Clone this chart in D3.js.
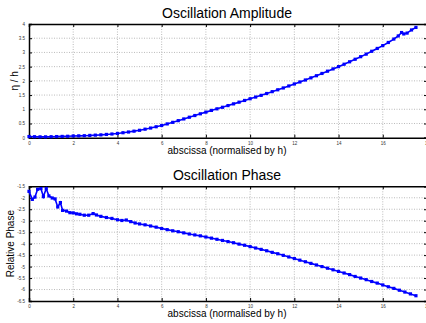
<!DOCTYPE html>
<html>
<head>
<meta charset="utf-8">
<script src="https://cdn.jsdelivr.net/npm/d3@7"></script>
<style>
  body { margin: 0; background: #fff; }
  text { font-family: "Liberation Sans", Arial, sans-serif; }
</style>
</head>
<body>
<div id="chart"></div>
<script>
// amplitude series (eta / h)
const ampX = [0, 0.25, 0.5, 0.75, 1, 1.25, 1.5, 1.75, 2, 2.25, 2.5, 2.75, 3, 3.25, 3.5, 3.75,
  4, 4.25, 4.5, 4.75, 5, 5.25, 5.5, 5.75, 6, 6.25, 6.5, 6.75, 7, 7.25, 7.5, 7.75,
  8, 8.25, 8.5, 8.75, 9, 9.25, 9.5, 9.75, 10, 10.25, 10.5, 10.75, 11, 11.25, 11.5, 11.75,
  12, 12.25, 12.5, 12.75, 13, 13.25, 13.5, 13.75, 14, 14.25, 14.5, 14.75, 15, 15.25, 15.5, 15.75,
  16, 16.25, 16.5, 16.7, 16.85, 16.95, 17.1, 17.3, 17.5];
const ampY = [0.04, 0.035, 0.03, 0.03, 0.035, 0.04, 0.045, 0.05, 0.06, 0.065, 0.07, 0.08, 0.09, 0.10, 0.115, 0.13,
  0.15, 0.175, 0.20, 0.23, 0.26, 0.30, 0.34, 0.385, 0.43, 0.485, 0.54, 0.60, 0.66, 0.72, 0.78, 0.84,
  0.90, 0.96, 1.015, 1.07, 1.13, 1.19, 1.25, 1.31, 1.37, 1.43, 1.49, 1.555, 1.62, 1.685, 1.75, 1.82,
  1.89, 1.96, 2.03, 2.105, 2.18, 2.26, 2.34, 2.42, 2.50, 2.585, 2.67, 2.76, 2.85, 2.94, 3.04, 3.14,
  3.24, 3.35, 3.47, 3.58, 3.70, 3.65, 3.68, 3.79, 3.88];

// phase series
const phaseX = [0, 0.15, 0.27, 0.39, 0.54, 0.65, 0.78, 0.9, 1.05, 1.18, 1.3, 1.42, 1.52, 1.7, 1.85,
  2, 2.15, 2.3, 2.5, 2.7, 2.9, 3.05, 3.25, 3.5, 3.75, 4, 4.2, 4.4, 4.6, 4.8,
  5, 5.25, 5.5, 5.75, 6, 6.25, 6.5, 6.75, 7, 7.25, 7.5, 7.75, 8, 8.25, 8.5, 8.75,
  9, 9.25, 9.5, 9.75, 10, 10.25, 10.5, 10.75, 11, 11.25, 11.5, 11.75, 12, 12.25, 12.5, 12.75,
  13, 13.25, 13.5, 13.75, 14, 14.25, 14.5, 14.75, 15, 15.25, 15.5, 15.75, 16, 16.25, 16.5, 16.75,
  17, 17.25, 17.5];
const phaseY = [-1.72, -2.07, -1.97, -1.63, -1.60, -1.95, -1.60, -1.92, -2.01, -2.05, -2.40, -2.21, -2.55, -2.58, -2.65,
  -2.66, -2.70, -2.72, -2.76, -2.76, -2.69, -2.75, -2.81, -2.86, -2.90, -2.96, -2.99, -2.97, -3.04, -3.10,
  -3.14, -3.18, -3.23, -3.28, -3.34, -3.39, -3.44, -3.48, -3.53, -3.58, -3.62, -3.66, -3.71, -3.76, -3.81, -3.86,
  -3.91, -3.96, -4.02, -4.07, -4.13, -4.19, -4.25, -4.31, -4.38, -4.44, -4.51, -4.58, -4.65, -4.72, -4.79, -4.86,
  -4.93, -5.00, -5.07, -5.14, -5.21, -5.28, -5.35, -5.43, -5.50, -5.57, -5.65, -5.72, -5.80, -5.88, -5.95, -6.03,
  -6.11, -6.19, -6.27];

const xTicks = [0, 2, 4, 6, 8, 10, 12, 14, 16, 18];
const ampTicks = [0, 0.5, 1, 1.5, 2, 2.5, 3, 3.5, 4];
const phaseTicks = [-6.5, -6, -5.5, -5, -4.5, -4, -3.5, -3, -2.5, -2, -1.5];

const width = 426, height = 323;
const svg = d3.select("#chart").append("svg")
  .attr("width", width).attr("height", height);

const left = 29, right = 427;

function panel(opts) {
  const x = d3.scaleLinear().domain([0, 18]).range([left, right]);
  const y = d3.scaleLinear().domain(opts.yDomain).range([opts.bottom, opts.top]);
  const g = svg.append("g");

  // dotted grid
  g.selectAll(".gx").data(xTicks.slice(1, -1)).enter().append("line")
    .attr("x1", d => x(d)).attr("x2", d => x(d))
    .attr("y1", opts.top).attr("y2", opts.bottom)
    .attr("stroke", "#aaa").attr("stroke-width", 0.8).attr("stroke-dasharray", "1,1.5");
  g.selectAll(".gy").data(opts.yTicks.slice(1, -1)).enter().append("line")
    .attr("x1", left).attr("x2", right)
    .attr("y1", d => y(d)).attr("y2", d => y(d))
    .attr("stroke", "#aaa").attr("stroke-width", 0.8).attr("stroke-dasharray", "1,1.5");

  // axes with inward ticks
  const xb = d3.axisBottom(x).tickValues(xTicks).tickSize(-3).tickPadding(4).tickFormat(d3.format("d"));
  const xt = d3.axisTop(x).tickValues(xTicks).tickSize(-3).tickFormat("");
  const yl = d3.axisLeft(y).tickValues(opts.yTicks).tickSize(-3).tickPadding(4).tickFormat(d => String(d));
  const yr = d3.axisRight(y).tickValues(opts.yTicks).tickSize(-3).tickFormat("");

  const axes = [
    g.append("g").attr("transform", `translate(0,${opts.bottom})`).call(xb),
    g.append("g").attr("transform", `translate(0,${opts.top})`).call(xt),
    g.append("g").attr("transform", `translate(${left},0)`).call(yl),
    g.append("g").attr("transform", `translate(${right},0)`).call(yr)
  ];
  axes.forEach(a => {
    a.select(".domain").attr("stroke", "#000").attr("stroke-width", 1.5);
    a.selectAll(".tick line").attr("stroke", "#000");
    a.selectAll("text").attr("font-size", 4.5).attr("fill", "#333");
  });

  // series
  const pts = opts.xs.map((v, i) => [v, opts.ys[i]]);
  g.append("path").datum(pts)
    .attr("fill", "none").attr("stroke", "#0000ff").attr("stroke-width", 1.6)
    .attr("d", d3.line().x(d => x(d[0])).y(d => y(d[1])));
  g.selectAll(".m").data(pts).enter().append("rect")
    .attr("x", d => x(d[0]) - 1.6).attr("y", d => y(d[1]) - 1.6)
    .attr("width", 3.2).attr("height", 3.2).attr("fill", "#0000ff");

  // text
  svg.append("text").attr("x", 227).attr("y", opts.top - 6)
    .attr("text-anchor", "middle").attr("font-size", 14).text(opts.title);
  svg.append("text").attr("x", 227).attr("y", opts.bottom + 16)
    .attr("text-anchor", "middle").attr("font-size", 10).text("abscissa (normalised by h)");
  svg.append("text")
    .attr("transform", `translate(${opts.ylx},${(opts.top + opts.bottom) / 2}) rotate(-90)`)
    .attr("text-anchor", "middle").attr("font-size", 10).text(opts.ylabel);
}

panel({ title: "Oscillation Amplitude", top: 24, bottom: 137.7, yDomain: [0, 4], yTicks: ampTicks,
  xs: ampX, ys: ampY, ylabel: "\u03b7  / h", ylx: 18 });
panel({ title: "Oscillation Phase", top: 186.3, bottom: 301, yDomain: [-6.5, -1.5], yTicks: phaseTicks,
  xs: phaseX, ys: phaseY, ylabel: "Relative Phase", ylx: 14 });
</script>
</body>
</html>
